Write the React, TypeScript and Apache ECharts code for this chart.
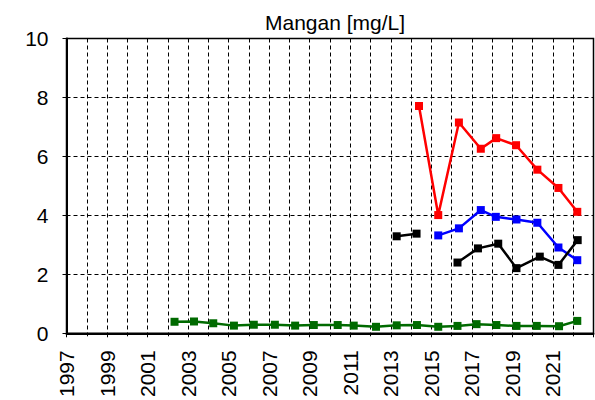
import React, { useEffect, useRef } from "react";
import * as echarts from "echarts";

const title = "Mangan [mg/L]";

const xMin = 1997;
const xMax = 2023;
const yTicks = [0, 2, 4, 6, 8, 10];

const greenYears = [2002.33, 2003.29, 2004.24, 2005.26, 2006.24, 2007.28, 2008.28, 2009.2, 2010.38, 2011.17, 2012.27, 2013.29, 2014.29, 2015.34, 2016.29, 2017.23, 2018.21, 2019.2, 2020.2, 2021.3, 2022.2];
const greenValues = [0.39, 0.4, 0.34, 0.26, 0.29, 0.29, 0.26, 0.28, 0.28, 0.26, 0.22, 0.27, 0.28, 0.22, 0.25, 0.31, 0.28, 0.25, 0.25, 0.24, 0.42];

const blackYears = [2013.29, 2014.27, 2015.3, 2016.29, 2017.3, 2018.3, 2019.2, 2020.35, 2021.27, 2022.22];
const blackValues: (number | null)[] = [3.29, 3.38, null, 2.4, 2.88, 3.04, 2.21, 2.6, 2.32, 3.16];

const blueYears = [2015.34, 2016.36, 2017.44, 2018.18, 2019.2, 2020.23, 2021.27, 2022.2];
const blueValues = [3.32, 3.56, 4.18, 3.95, 3.86, 3.75, 2.91, 2.48];

const redYears = [2014.39, 2015.34, 2016.36, 2017.44, 2018.2, 2019.18, 2020.23, 2021.27, 2022.2];
const redValues = [7.71, 4.01, 7.15, 6.26, 6.62, 6.38, 5.55, 4.93, 4.12];

const FONT = "'Liberation Sans', Arial, sans-serif";

function pairs(xs: number[], ys: (number | null)[]) {
  return xs.map((x, i) => [x, ys[i] === null ? "-" : ys[i]]);
}

function lineSeries(name: string, xs: number[], ys: (number | null)[], color: string, width: number) {
  return {
    name,
    type: "line",
    data: pairs(xs, ys),
    symbol: "rect",
    symbolSize: 8,
    connectNulls: false,
    lineStyle: { color, width },
    itemStyle: { color },
    emphasis: { disabled: true },
  };
}

export default function App() {
  const ref = useRef<HTMLDivElement>(null);
  useEffect(() => {
    if (!ref.current) return;
    const chart = echarts.init(ref.current, null, { renderer: "svg" });
    chart.setOption({
      animation: false,
      title: {
        text: title,
        left: 330,
        textAlign: "center",
        top: 7,
        textStyle: { fontFamily: FONT, fontSize: 21, fontWeight: "normal", color: "#000" },
      },
      grid: {
        left: 66.5,
        right: 1.5,
        top: 38.5,
        bottom: 65.7,
        show: true,
        borderColor: "#000",
        borderWidth: 1.5,
        backgroundColor: "transparent",
      },
      xAxis: {
        type: "value",
        min: xMin,
        max: xMax,
        interval: 2,
        axisLine: { show: true, onZero: false, lineStyle: { color: "#000", width: 2 } },
        axisTick: { show: true, length: 4, lineStyle: { color: "#000", width: 1 } },
        minorTick: { show: true, splitNumber: 2, length: 3, lineStyle: { color: "#000", width: 1 } },
        splitLine: { show: true, lineStyle: { color: "#000", type: [4, 3], width: 1 } },
        minorSplitLine: { show: true, lineStyle: { color: "#000", type: [4, 3], width: 1 } },
        axisLabel: {
          rotate: 90,
          margin: 17,
          fontFamily: FONT,
          fontSize: 21,
          color: "#000",
          showMaxLabel: false,
          formatter: (v: number) => (v >= xMax ? "" : String(v)),
        },
      },
      yAxis: {
        type: "value",
        min: yTicks[0],
        max: yTicks[yTicks.length - 1],
        interval: 2,
        axisLine: { show: true, lineStyle: { color: "#000", width: 2 } },
        axisTick: { show: true, length: 4, lineStyle: { color: "#000", width: 1 } },
        splitLine: { show: true, lineStyle: { color: "#000", type: [4, 3], width: 1 } },
        axisLabel: {
          margin: 18,
          fontFamily: FONT,
          fontSize: 21,
          color: "#000",
        },
      },
      series: [
        lineSeries("green", greenYears, greenValues, "#006a00", 2.5),
        lineSeries("blue", blueYears, blueValues, "#0000ff", 2.5),
        lineSeries("black", blackYears, blackValues, "#000000", 2.5),
        lineSeries("red", redYears, redValues, "#ff0000", 2.5),
      ],
    });
    return () => chart.dispose();
  }, []);
  return (
    <div
      ref={ref}
      style={{ position: "absolute", left: 0, top: 0, width: 595, height: 400, background: "#fff" }}
    />
  );
}
